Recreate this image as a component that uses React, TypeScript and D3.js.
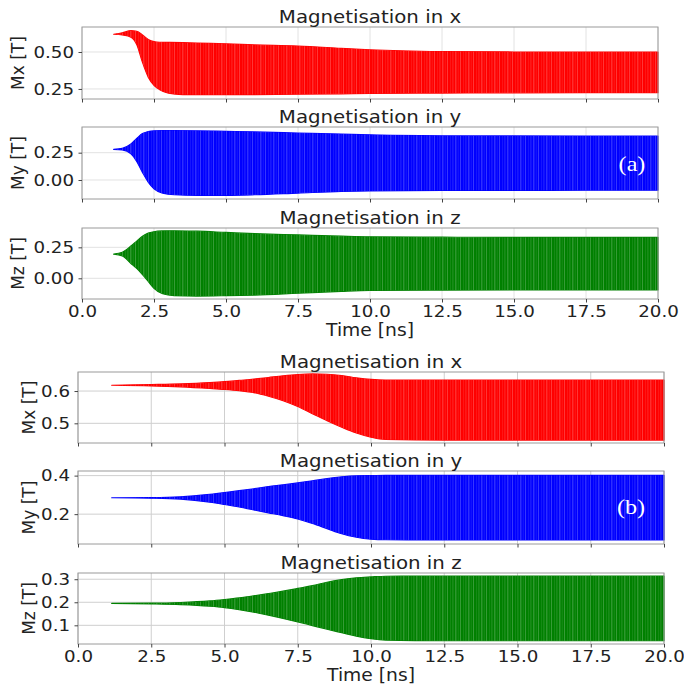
import { useEffect, useRef } from 'react';
import { select, scaleLinear, area, axisBottom, axisLeft, format, curveMonotoneX } from 'd3';

const timeTicks = [0, 2.5, 5, 7.5, 10, 12.5, 15, 17.5, 20];

// (a) envelope of the fast precession
const tAx = [1.1, 1.4, 1.7, 1.9, 2.1, 2.3, 2.5, 2.7, 3.0, 3.5, 4.0, 5.0, 6.0, 7.5, 9.0, 10.0, 12.5, 15.0, 17.5, 20.0];
const mxAUpper = [0.62, 0.63, 0.644, 0.64, 0.615, 0.585, 0.57, 0.566, 0.565, 0.563, 0.56, 0.555, 0.548, 0.54, 0.525, 0.515, 0.503, 0.5, 0.5, 0.5];
const mxALower = [0.62, 0.615, 0.6, 0.55, 0.43, 0.33, 0.275, 0.245, 0.222, 0.212, 0.211, 0.211, 0.212, 0.214, 0.217, 0.22, 0.222, 0.224, 0.225, 0.225];

const tA = [1.1, 1.4, 1.7, 1.9, 2.1, 2.3, 2.5, 2.8, 3.2, 4.0, 5.0, 6.0, 7.5, 9.0, 10.0, 12.5, 15.0, 17.5, 20.0];
const myAUpper = [0.28, 0.29, 0.33, 0.38, 0.425, 0.443, 0.45, 0.452, 0.452, 0.45, 0.445, 0.44, 0.43, 0.42, 0.413, 0.405, 0.403, 0.402, 0.402];
const myALower = [0.28, 0.275, 0.24, 0.17, 0.07, -0.02, -0.08, -0.12, -0.135, -0.14, -0.14, -0.135, -0.12, -0.105, -0.1, -0.095, -0.095, -0.094, -0.094];
const mzAUpper = [0.195, 0.21, 0.26, 0.3, 0.34, 0.365, 0.376, 0.382, 0.384, 0.38, 0.37, 0.36, 0.35, 0.34, 0.335, 0.332, 0.33, 0.33, 0.33];
const mzALower = [0.195, 0.18, 0.12, 0.08, 0.03, -0.025, -0.08, -0.125, -0.14, -0.143, -0.14, -0.135, -0.12, -0.105, -0.098, -0.095, -0.094, -0.094, -0.094];

// (b)
const tB = [1.15, 2.5, 3.5, 4.5, 5.0, 5.5, 6.0, 6.5, 7.0, 7.5, 8.0, 8.5, 9.0, 9.5, 10.0, 10.5, 12.5, 15.0, 17.5, 20.0];
const mxBUpper = [0.618, 0.62, 0.622, 0.626, 0.629, 0.633, 0.637, 0.642, 0.647, 0.651, 0.653, 0.652, 0.648, 0.641, 0.636, 0.634, 0.634, 0.634, 0.634, 0.634];
const mxBLower = [0.618, 0.616, 0.613, 0.608, 0.605, 0.601, 0.595, 0.584, 0.57, 0.552, 0.53, 0.508, 0.488, 0.47, 0.457, 0.45, 0.448, 0.448, 0.448, 0.448];
const myBUpper = [0.285, 0.286, 0.29, 0.303, 0.312, 0.322, 0.332, 0.343, 0.352, 0.362, 0.373, 0.385, 0.394, 0.399, 0.4, 0.401, 0.401, 0.401, 0.401, 0.401];
const myBLower = [0.285, 0.283, 0.278, 0.262, 0.25, 0.237, 0.222, 0.207, 0.192, 0.175, 0.152, 0.125, 0.098, 0.08, 0.07, 0.067, 0.066, 0.066, 0.066, 0.066];
const mzBUpper = [0.195, 0.196, 0.199, 0.206, 0.212, 0.219, 0.228, 0.238, 0.248, 0.26, 0.272, 0.287, 0.298, 0.306, 0.31, 0.313, 0.314, 0.314, 0.314, 0.314];
const mzBLower = [0.195, 0.193, 0.19, 0.183, 0.177, 0.168, 0.157, 0.144, 0.13, 0.115, 0.099, 0.083, 0.068, 0.053, 0.042, 0.036, 0.033, 0.033, 0.033, 0.033];

const FONT = 'DejaVu Sans, Verdana, sans-serif';

const panels = [
  { fig: 'a', title: 'Magnetisation in x', ylabel: 'Mx [T]', t: tAx, hi: mxAUpper, lo: mxALower, color: '#ff0000', left: 82, right: 658, top: 27, bottom: 99, yDomain: [0.182, 0.669], yTicks: [0.25, 0.5], fmt: '.2f', xLabels: false },
  { fig: 'a', title: 'Magnetisation in y', ylabel: 'My [T]', t: tA, hi: myAUpper, lo: myALower, color: '#0000ff', left: 82, right: 658, top: 127, bottom: 199, yDomain: [-0.174, 0.485], yTicks: [0, 0.25], fmt: '.2f', xLabels: false },
  { fig: 'a', title: 'Magnetisation in z', ylabel: 'Mz [T]', t: tA, hi: mzAUpper, lo: mzALower, color: '#008000', left: 82, right: 658, top: 228, bottom: 299, yDomain: [-0.167, 0.406], yTicks: [0, 0.25], fmt: '.2f', xLabels: true },
  { fig: 'b', title: 'Magnetisation in x', ylabel: 'Mx [T]', t: tB, hi: mxBUpper, lo: mxBLower, color: '#ff0000', left: 78, right: 664, top: 372, bottom: 443, yDomain: [0.439, 0.659], yTicks: [0.5, 0.6], fmt: '.1f', xLabels: false },
  { fig: 'b', title: 'Magnetisation in y', ylabel: 'My [T]', t: tB, hi: myBUpper, lo: myBLower, color: '#0000ff', left: 78, right: 664, top: 471, bottom: 544, yDomain: [0.045, 0.424], yTicks: [0.2, 0.4], fmt: '.1f', xLabels: false },
  { fig: 'b', title: 'Magnetisation in z', ylabel: 'Mz [T]', t: tB, hi: mzBUpper, lo: mzBLower, color: '#008000', left: 78, right: 664, top: 573, bottom: 644, yDomain: [0.019, 0.327], yTicks: [0.1, 0.2, 0.3], fmt: '.1f', xLabels: true },
];

const App = () => {
  const svgRef = useRef(null);

  useEffect(() => {
    const svg = select(svgRef.current);
    svg.selectAll('*').remove();

    const defs = svg.append('defs');
    const pat = defs
      .append('pattern')
      .attr('id', 'streaks')
      .attr('patternUnits', 'userSpaceOnUse')
      .attr('width', 13)
      .attr('height', 20);
    [
      [0.6, 0.6, 0.45],
      [2.9, 0.4, 0.22],
      [5.2, 0.6, 0.35],
      [8.1, 0.4, 0.2],
      [10.7, 0.5, 0.3],
    ].forEach(([x, w, o]) => {
      pat.append('rect').attr('x', x).attr('y', 0).attr('width', w).attr('height', 20).attr('fill', '#fff').attr('opacity', o);
    });

    svg.append('rect').attr('width', 684).attr('height', 687).attr('fill', '#fff');

    panels.forEach((p) => {
      const x = scaleLinear().domain([0, 20]).range([p.left, p.right]);
      const y = scaleLinear().domain(p.yDomain).range([p.bottom, p.top]);
      const gridColor = p.fig === 'a' ? '#e2e2e2' : '#cfcfcf';
      const g = svg.append('g');

      g.append('g')
        .selectAll('line')
        .data(timeTicks)
        .join('line')
        .attr('x1', (d) => x(d))
        .attr('x2', (d) => x(d))
        .attr('y1', p.top)
        .attr('y2', p.bottom)
        .attr('stroke', gridColor)
        .attr('stroke-width', 1);
      g.append('g')
        .selectAll('line')
        .data(p.yTicks)
        .join('line')
        .attr('x1', p.left)
        .attr('x2', p.right)
        .attr('y1', (d) => y(d))
        .attr('y2', (d) => y(d))
        .attr('stroke', gridColor)
        .attr('stroke-width', 1);

      const band = area()
        .curve(curveMonotoneX)
        .x((_, i) => x(p.t[i]))
        .y0((_, i) => y(p.lo[i]))
        .y1((d) => y(d));
      g.append('path')
        .attr('d', band(p.hi))
        .attr('fill', p.color)
        .attr('stroke', p.color)
        .attr('stroke-width', 1.2)
        .attr('stroke-linejoin', 'round');
      g.append('path').attr('d', band(p.hi)).attr('fill', 'url(#streaks)');

      g.append('rect')
        .attr('x', p.left)
        .attr('y', p.top)
        .attr('width', p.right - p.left)
        .attr('height', p.bottom - p.top)
        .attr('fill', 'none')
        .attr('stroke', '#9a9a9a')
        .attr('stroke-width', 1);

      const xAxis = axisBottom(x)
        .tickValues(timeTicks)
        .tickSize(3.5)
        .tickPadding(3)
        .tickFormat((d) => (p.xLabels ? format('.1f')(d) : ''));
      const xg = g.append('g').attr('transform', `translate(0,${p.bottom})`).call(xAxis);
      xg.select('.domain').remove();
      xg.selectAll('line').attr('stroke', '#444');
      xg.selectAll('text')
        .attr('fill', '#222')
        .attr('font-family', FONT)
        .attr('font-size', 16)
        .attr('transform', 'scale(1.14,1)');

      const yAxis = axisLeft(y).tickValues(p.yTicks).tickSize(3.5).tickPadding(3.5).tickFormat(format(p.fmt));
      const yg = g.append('g').attr('transform', `translate(${p.left},0)`).call(yAxis);
      yg.select('.domain').remove();
      yg.selectAll('line').attr('stroke', '#444');
      yg.selectAll('text')
        .attr('fill', '#222')
        .attr('font-family', FONT)
        .attr('font-size', 16)
        .attr('transform', 'scale(1.14,1)');

      g.append('text')
        .attr('transform', `translate(${(p.left + p.right) / 2},${p.top - 4}) scale(1.1,1)`)
        .attr('text-anchor', 'middle')
        .attr('font-family', FONT)
        .attr('font-size', 18)
        .attr('fill', '#222')
        .text(p.title);

      g.append('text')
        .attr('transform', `translate(${p.fig === 'a' ? 24 : 35},${(p.top + p.bottom) / 2}) rotate(-90)`)
        .attr('text-anchor', 'middle')
        .attr('font-family', FONT)
        .attr('font-size', 17)
        .attr('fill', '#222')
        .text(p.ylabel);

      if (p.xLabels) {
        g.append('text')
          .attr('transform', `translate(${(p.left + p.right) / 2},${p.bottom + 37}) scale(1.1,1)`)
          .attr('text-anchor', 'middle')
          .attr('font-family', FONT)
          .attr('font-size', 17)
          .attr('fill', '#222')
          .text('Time [ns]');
      }
    });

    // panel tags
    [
      { label: '(a)', x: 632, y: 171 },
      { label: '(b)', x: 631, y: 514 },
    ].forEach((d) => {
      svg
        .append('text')
        .attr('transform', `translate(${d.x},${d.y}) scale(1.1,1)`)
        .attr('text-anchor', 'middle')
        .attr('font-family', 'Liberation Serif, Times New Roman, serif')
        .attr('font-size', 22)
        .attr('fill', '#fff')
        .text(d.label);
    });
  }, []);

  return (
    <svg
      ref={svgRef}
      width={684}
      height={687}
      style={{ position: 'absolute', left: 0, top: 0, display: 'block' }}
    />
  );
};

export default App;
